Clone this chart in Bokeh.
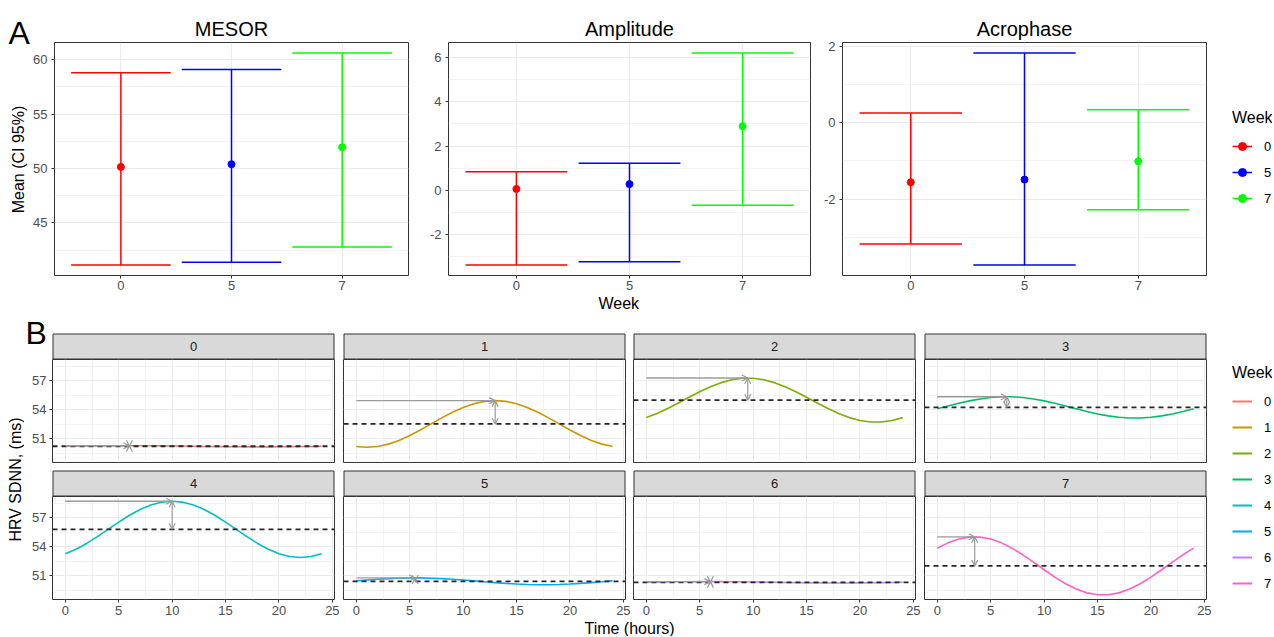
import math
from bokeh.plotting import figure
from bokeh.layouts import row, column
from bokeh.models import (Range1d, FixedTicker, LinearAxis, Grid, Label, Span, Title,
                          Arrow, OpenHead, ColumnDataSource, Legend, LegendItem)
from bokeh.embed import file_html
from bokeh.resources import INLINE

# ---------------- Panel A data ----------------
weeks_a = ["0", "5", "7"]
mesor_mean = [50.15, 50.40, 51.95]
mesor_low = [41.15, 41.40, 42.80]
mesor_high = [58.80, 59.10, 60.60]
amp_mean = [0.05, 0.27, 2.90]
amp_low = [-3.40, -3.26, -0.69]
amp_high = [0.83, 1.22, 6.22]
acro_mean = [-1.56, -1.49, -1.01]
acro_low = [-3.18, -3.73, -2.28]
acro_high = [0.26, 1.83, 0.34]

mesor_ticks = [45, 50, 55, 60]
mesor_minor = [42.5, 47.5, 52.5, 57.5]
amp_ticks = [-2, 0, 2, 4, 6]
amp_minor = [-3, -1, 1, 3, 5]
acro_ticks = [-2, 0, 2]
acro_minor = [-3, -1, 1]

# ---------------- Panel B data ----------------
weeks_b = ["0", "1", "2", "3", "4", "5", "6", "7"]
hours = list(range(25))
sdnn_w0 = [50.25, 50.27, 50.28, 50.29, 50.30, 50.31, 50.31, 50.31, 50.30, 50.29, 50.28, 50.27, 50.25,
           50.23, 50.22, 50.21, 50.20, 50.19, 50.19, 50.19, 50.20, 50.21, 50.22, 50.23, 50.25]
sdnn_w1 = [50.23, 50.15, 50.23, 50.47, 50.85, 51.35, 51.93, 52.55, 53.17, 53.75, 54.25, 54.63, 54.87,
           54.95, 54.87, 54.63, 54.25, 53.75, 53.17, 52.55, 51.93, 51.35, 50.85, 50.47, 50.23]
sdnn_w2 = [53.20, 53.62, 54.13, 54.70, 55.30, 55.87, 56.38, 56.80, 57.10, 57.25, 57.25, 57.10, 56.80,
           56.38, 55.87, 55.30, 54.70, 54.13, 53.62, 53.20, 52.90, 52.75, 52.75, 52.90, 53.20]
sdnn_w3 = [54.11, 54.39, 54.67, 54.92, 55.12, 55.27, 55.34, 55.34, 55.27, 55.12, 54.92, 54.67, 54.39,
           54.11, 53.83, 53.58, 53.38, 53.23, 53.16, 53.16, 53.23, 53.38, 53.58, 53.83, 54.11]
sdnn_w4 = [53.29, 53.75, 54.35, 55.05, 55.80, 56.55, 57.25, 57.85, 58.31, 58.60, 58.70, 58.60, 58.31,
           57.85, 57.25, 56.55, 55.80, 55.05, 54.35, 53.75, 53.29, 53.00, 52.90, 53.00, 53.29]
sdnn_w5 = [50.50, 50.58, 50.66, 50.73, 50.77, 50.80, 50.80, 50.77, 50.73, 50.66, 50.58, 50.50, 50.40,
           50.32, 50.24, 50.17, 50.13, 50.10, 50.10, 50.13, 50.17, 50.24, 50.32, 50.40, 50.50]
sdnn_w6 = [50.35, 50.37, 50.38, 50.40, 50.41, 50.42, 50.42, 50.42, 50.41, 50.40, 50.38, 50.37, 50.35,
           50.33, 50.32, 50.30, 50.29, 50.28, 50.28, 50.28, 50.29, 50.30, 50.32, 50.33, 50.35]
sdnn_w7 = [53.86, 54.41, 54.80, 55.00, 55.00, 54.80, 54.41, 53.86, 53.18, 52.42, 51.64, 50.88, 50.20,
           49.65, 49.26, 49.06, 49.06, 49.26, 49.65, 50.20, 50.88, 51.64, 52.42, 53.18, 53.86]
sdnn_weeks = [sdnn_w0, sdnn_w1, sdnn_w2, sdnn_w3, sdnn_w4, sdnn_w5, sdnn_w6, sdnn_w7]
mesor_b = [50.25, 52.55, 55.00, 54.25, 55.80, 50.45, 50.35, 52.03]
acrophase_b = [6.0, 13.0, 9.5, 6.5, 10.0, 5.5, 6.0, 3.5]
peak_b = [50.31, 54.95, 57.27, 55.35, 58.70, 50.80, 50.42, 55.03]

time_ticks = [0, 5, 10, 15, 20, 25]
time_minor = [2.5, 7.5, 12.5, 17.5, 22.5]
sdnn_ticks = [51, 54, 57]
sdnn_minor = [49.5, 52.5, 55.5, 58.5]

# ---------------- styles ----------------
FONT = "Liberation Sans"
TICK_TXT = "#4D4D4D"
DARK = "#333333"
GRID_C = "#EBEBEB"
ARROW_C = "#9A9A9A"
STRIP_C = "#D9D9D9"
colors_a = ["#FF0000", "#0000FF", "#00FF00"]
colors_b = ["#F8766D", "#CD9600", "#7CAE00", "#00BE67", "#00BFC4", "#00A9FF", "#C77CFF", "#FF61CC"]


def expand(lo, hi, f=0.05):
    d = hi - lo
    return lo - f * d, hi + f * d


def style_axis(ax, ticks, minor=None, standoff=4):
    ax.ticker = FixedTicker(ticks=ticks, minor_ticks=minor or [])
    ax.major_label_overrides = {t: f"{t:g}" for t in ticks}
    ax.major_label_text_font = FONT
    ax.major_label_text_font_size = "13px"
    ax.major_label_text_color = TICK_TXT
    ax.major_tick_line_color = DARK
    ax.major_tick_out = 3
    ax.major_tick_in = 0
    ax.minor_tick_line_color = None
    ax.axis_line_color = None
    ax.major_label_standoff = standoff


def strip_grids(f):
    f.center = [r for r in f.center if not isinstance(r, Grid)]


def base_fig(width, height, xr, yr, left=0, right=0, top=0, bottom=0, axes=False):
    kw = {} if axes else dict(x_axis_location=None, y_axis_location=None)
    f = figure(width=width, height=height, x_range=xr, y_range=yr,
               output_backend="svg", toolbar_location=None, tools="",
               min_border_left=left, min_border_right=right,
               min_border_top=top, min_border_bottom=bottom, frame_align=False, **kw)
    f.border_fill_color = "white"
    f.background_fill_color = "white"
    return f


def blank(width, height):
    f = base_fig(width, height, Range1d(0, width), Range1d(0, height))
    strip_grids(f)
    f.outline_line_color = None
    return f


# ---------------- Panel A ----------------
A_H, A_TOP, A_BOT = 314, 42, 39


def panel_a(title, means, lows, highs, ticks, minor, width, left, right):
    ylo, yhi = expand(min(lows), max(highs))
    p = base_fig(width, A_H, Range1d(0.4, 3.6), Range1d(ylo, yhi), left, right, A_TOP, A_BOT,
                 axes=True)
    p.title.text = title
    p.title.align = "center"
    p.title.text_font = FONT
    p.title.text_font_size = "20px"
    p.title.text_font_style = "normal"
    p.title.text_color = "black"
    p.title.standoff = 5
    xs = [1, 2, 3]
    src = ColumnDataSource(dict(x=xs, xl=[x - 0.45 for x in xs], xh=[x + 0.45 for x in xs],
                                m=means, lo=lows, hi=highs, c=colors_a))
    p.segment("x", "lo", "x", "hi", source=src, line_color="c", line_width=1.5)
    p.segment("xl", "lo", "xh", "lo", source=src, line_color="c", line_width=1.5)
    p.segment("xl", "hi", "xh", "hi", source=src, line_color="c", line_width=1.5)
    p.scatter("x", "m", source=src, fill_color="c", line_color="c", size=7)
    style_axis(p.xaxis[0], xs, standoff=2)
    p.xaxis.major_label_overrides = {1: weeks_a[0], 2: weeks_a[1], 3: weeks_a[2]}
    style_axis(p.yaxis[0], ticks, minor, standoff=3)
    p.xgrid.grid_line_color = GRID_C
    p.ygrid.grid_line_color = GRID_C
    p.ygrid.minor_grid_line_color = GRID_C
    p.ygrid.minor_grid_line_width = 0.6
    p.outline_line_color = DARK
    p.outline_line_width = 1
    return p


a1 = panel_a("MESOR", mesor_mean, mesor_low, mesor_high, mesor_ticks, mesor_minor, 390, 23, 12)
a2 = panel_a("Amplitude", amp_mean, amp_low, amp_high, amp_ticks, amp_minor, 398, 28, 8)
a3 = panel_a("Acrophase", acro_mean, acro_low, acro_high, acro_ticks, acro_minor, 394, 24, 6)

a2.add_layout(Title(text="Week", align="left", offset=150, standoff=0, text_font=FONT,
                    text_font_size="16px", text_font_style="normal", text_color="black"), "below")

TAG_H = 52
tag_a = blank(30, TAG_H)
tag_a.add_layout(Label(x=8, y=TAG_H - 32.5, text="A", text_font=FONT, text_font_size="32px",
                       text_color="black", text_align="left", text_baseline="middle"))
ylab_a = blank(30, A_H - TAG_H)
ylab_a.add_layout(Label(x=17.5, y=A_H - TAG_H - (159 - TAG_H), text="Mean (CI 95%)",
                        angle=math.pi / 2, text_font=FONT, text_font_size="16px",
                        text_color="black", text_align="center", text_baseline="middle"))


def make_legend(items):
    return Legend(items=items, title="Week", location="top_left", margin=0, padding=0,
                  spacing=6, glyph_height=20, glyph_width=20, label_height=20,
                  label_standoff=12, title_standoff=9, border_line_color=None,
                  background_fill_alpha=0, label_text_font=FONT, label_text_font_size="13px",
                  label_text_color="black", title_text_font=FONT, title_text_font_size="16px",
                  title_text_font_style="normal", title_text_color="black")


leg_a_fig = base_fig(60, A_H, Range1d(0, 1), Range1d(0, 1), left=20, top=109)
strip_grids(leg_a_fig)
leg_a_fig.outline_line_color = None
items_a = []
for c, w in zip(colors_a, weeks_a):
    rl = leg_a_fig.line(x=[5, 6], y=[5, 6], line_color=c, line_width=1.5)
    rs = leg_a_fig.scatter(x=[5], y=[5], fill_color=c, line_color=c, size=6)
    items_a.append(LegendItem(label=w, renderers=[rl, rs]))
leg_a_fig.add_layout(make_legend(items_a))

top_row = row(column(tag_a, ylab_a), a1, a2, a3, leg_a_fig)

# ---------------- Panel B ----------------
B_TOP = A_H
col_w = [318, 290, 290, 292]
col_l = [28, 1, 1, 2]
col_r = [8, 7, 7, 8]
strip_h = [45, 30]
strip_top = [19, 4]
panel_h = [107, 124]
panel_bot = [4, 21]

all_vals = [v for s in sdnn_weeks for v in s]
b_ylo, b_yhi = expand(min(all_vals), max(all_vals))
b_xlo, b_xhi = expand(min(hours), max(hours))

strips = [[], []]
panels = [[], []]
for i, wk in enumerate(weeks_b):
    r, c = divmod(i, 4)
    w, h = col_w[c], strip_h[r]
    s = blank(w, h)
    sl, sr, st = col_l[c] + 0.5, w - col_r[c] - 0.5, h - strip_top[r] - 0.5
    s.quad(left=[sl], right=[sr], top=[st], bottom=[0.5], fill_color=STRIP_C,
           line_color=DARK, line_width=1)
    s.add_layout(Label(x=(sl + sr) / 2, y=st / 2, text=wk, text_font=FONT, text_font_size="13px",
                       text_color="#1A1A1A", text_align="center", text_baseline="middle"))
    strips[r].append(s)

    p = base_fig(w, panel_h[r], Range1d(b_xlo, b_xhi), Range1d(b_ylo, b_yhi),
                 col_l[c], col_r[c], 0, panel_bot[r])
    strip_grids(p)
    p.add_layout(Grid(dimension=0, ticker=FixedTicker(ticks=time_ticks, minor_ticks=time_minor),
                      grid_line_color=GRID_C, minor_grid_line_color=GRID_C,
                      minor_grid_line_width=0.6), "center")
    p.add_layout(Grid(dimension=1, ticker=FixedTicker(ticks=sdnn_ticks, minor_ticks=sdnn_minor),
                      grid_line_color=GRID_C, minor_grid_line_color=GRID_C,
                      minor_grid_line_width=0.6), "center")
    if c == 0:
        ay = LinearAxis()
        style_axis(ay, sdnn_ticks, standoff=3)
        p.add_layout(ay, "left")
    if r == 1:
        ax = LinearAxis()
        style_axis(ax, time_ticks, standoff=3)
        p.add_layout(ax, "below")
    p.line(hours, sdnn_weeks[i], line_color=colors_b[i], line_width=1.6)
    p.add_layout(Span(location=mesor_b[i], dimension="width", line_color="#262626",
                      line_dash="5 4", line_width=1.8))
    p.add_layout(Arrow(x_start=0, y_start=peak_b[i], x_end=acrophase_b[i], y_end=peak_b[i],
                       line_color=ARROW_C, line_width=1.4,
                       end=OpenHead(size=6, line_color=ARROW_C, line_width=1.2)))
    p.add_layout(Arrow(x_start=acrophase_b[i], y_start=mesor_b[i], x_end=acrophase_b[i],
                       y_end=peak_b[i], line_color=ARROW_C, line_width=1.2,
                       start=OpenHead(size=6, line_color=ARROW_C, line_width=1.2),
                       end=OpenHead(size=6, line_color=ARROW_C, line_width=1.2)))
    p.outline_line_color = DARK
    p.outline_line_width = 1
    panels[r].append(p)

# "B" tag inside the first strip figure's canvas
strips[0][0].add_layout(Label(x=1, y=strip_h[0] - 18.5, text="B", text_font=FONT,
                              text_font_size="32px", text_color="black", text_align="left",
                              text_baseline="middle"))

BOT_H = sum(strip_h) + sum(panel_h) + 16
grid_w = sum(col_w)
xtitle = blank(grid_w, 16)
xtitle.add_layout(Label(x=605, y=8, text="Time (hours)", text_font=FONT, text_font_size="16px",
                        text_color="black", text_align="center", text_baseline="middle"))

ylab_b = blank(24, BOT_H)
ylab_b.add_layout(Label(x=15, y=BOT_H - (479 - B_TOP), text="HRV SDNN, (ms)", angle=math.pi / 2,
                        text_font=FONT, text_font_size="16px", text_color="black",
                        text_align="center", text_baseline="middle"))

leg_b_fig = base_fig(58, BOT_H, Range1d(0, 1), Range1d(0, 1), left=18, top=364 - B_TOP)
strip_grids(leg_b_fig)
leg_b_fig.outline_line_color = None
items_b = []
for c, w in zip(colors_b, weeks_b):
    rl = leg_b_fig.line(x=[5, 6], y=[5, 6], line_color=c, line_width=2)
    items_b.append(LegendItem(label=w, renderers=[rl]))
leg_b_fig.add_layout(make_legend(items_b))

facets = column(row(*strips[0]), row(*panels[0]), row(*strips[1]), row(*panels[1]), xtitle)
bottom = row(ylab_b, facets, leg_b_fig)

layout = column(top_row, bottom)

open("out.html", "w").write(file_html(layout, INLINE, title="Cosinor HRV"))
